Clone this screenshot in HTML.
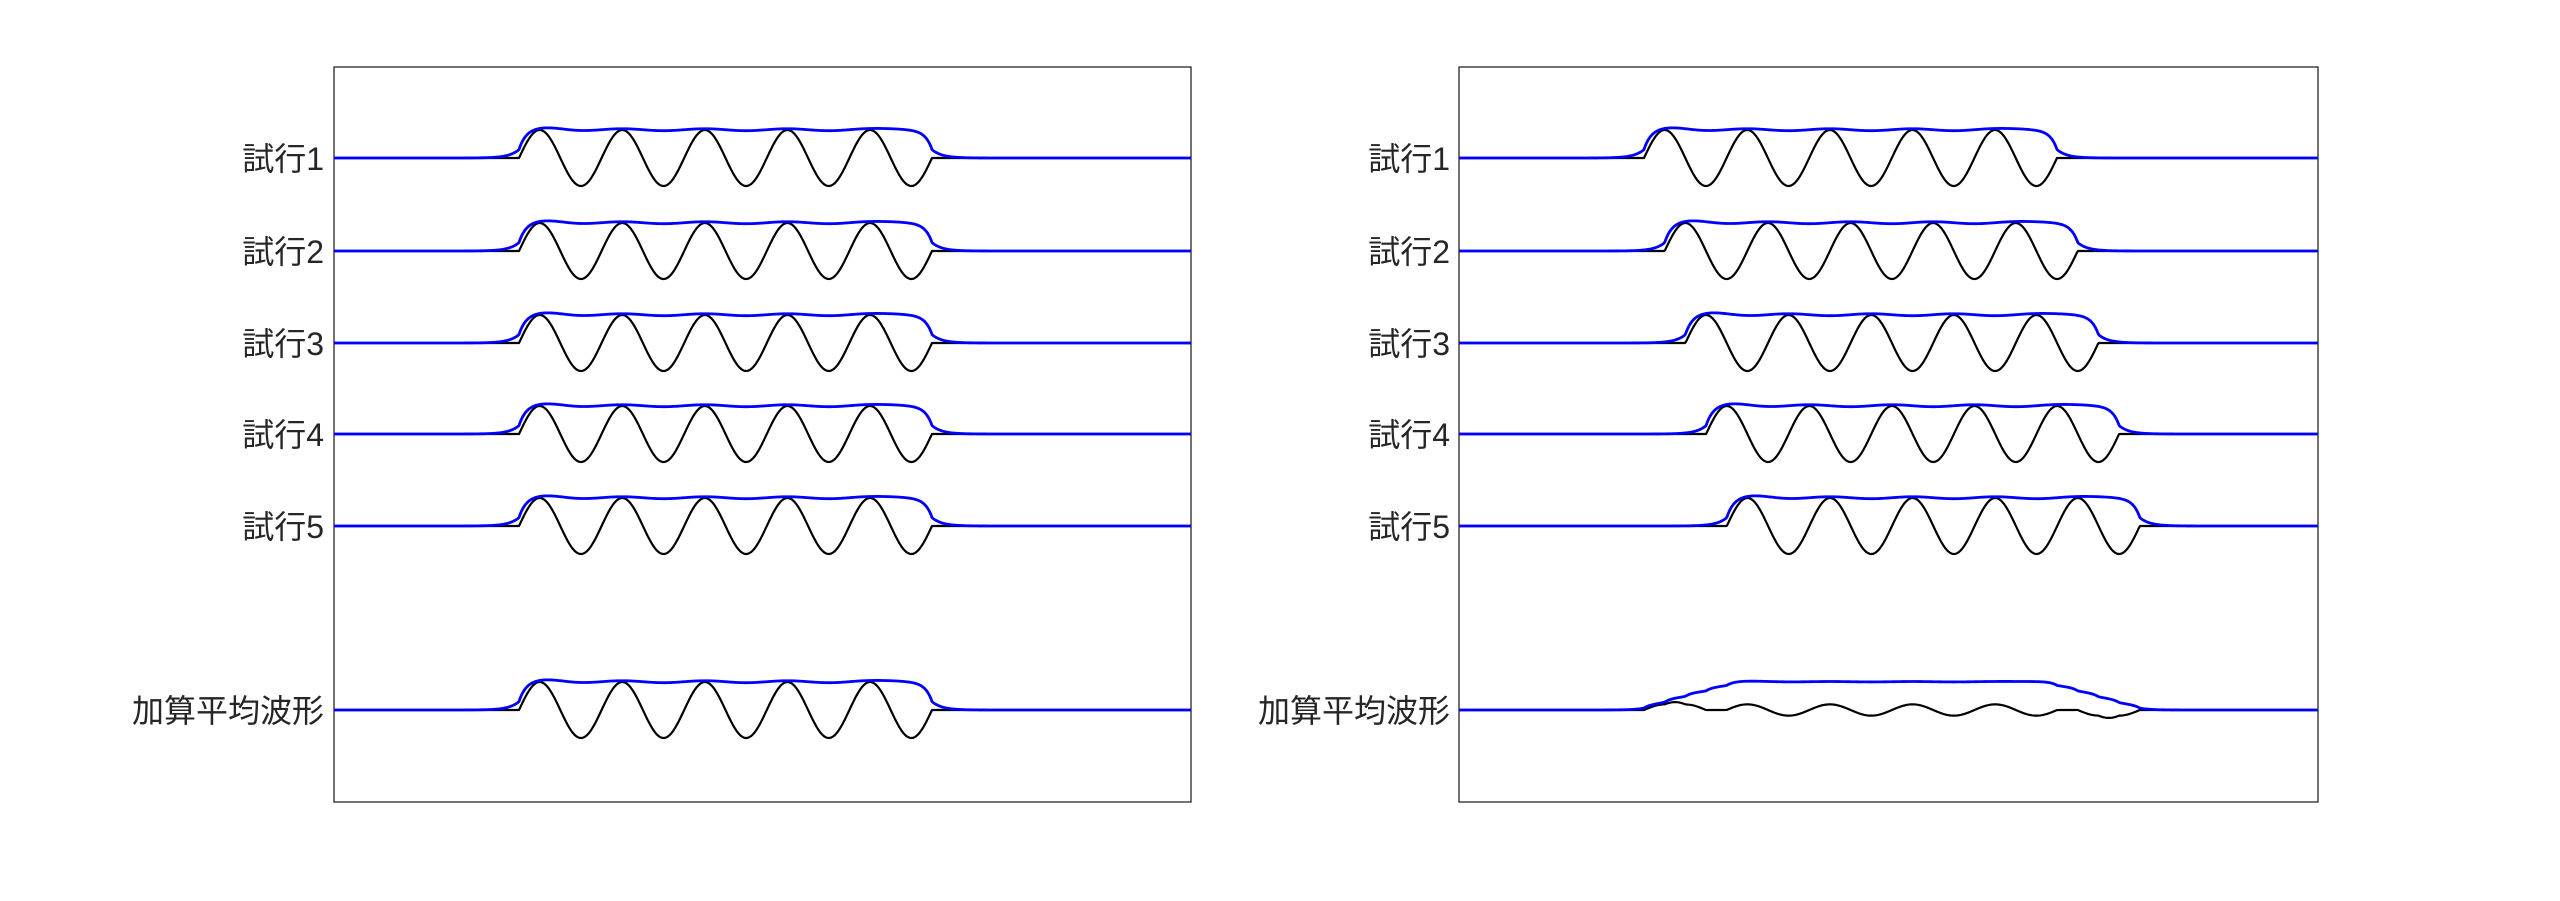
<!DOCTYPE html>
<html><head><meta charset="utf-8">
<style>
html,body{margin:0;padding:0;background:#fff;}
body{width:2560px;height:901px;overflow:hidden;}
svg{display:block;}
text{font-family:"Liberation Sans","Noto Sans CJK JP",sans-serif;font-size:32px;fill:#262626;}
</style></head>
<body>
<svg id="s" width="2560" height="901" viewBox="0 0 2560 901" xmlns="http://www.w3.org/2000/svg">
<rect x="334" y="67" width="857" height="735" fill="none" stroke="#262626" stroke-width="1.3"/>
<rect x="1459" y="67" width="859" height="735" fill="none" stroke="#262626" stroke-width="1.3"/>
<g text-anchor="end">
<text x="324" y="170">試行1</text>
<text x="324" y="263">試行2</text>
<text x="324" y="355">試行3</text>
<text x="324" y="446">試行4</text>
<text x="324" y="538">試行5</text>
<text x="324" y="722">加算平均波形</text>
<text x="1450" y="170">試行1</text>
<text x="1450" y="263">試行2</text>
<text x="1450" y="355">試行3</text>
<text x="1450" y="446">試行4</text>
<text x="1450" y="538">試行5</text>
<text x="1450" y="722">加算平均波形</text>
</g>
<g id="g"></g>
</svg>
<script>
(function(){
var NS="http://www.w3.org/2000/svg";
var g=document.getElementById('g');
var P=82.6, L=5*P, A=28, S0=185;
var rows=[158,251,343,434,526];
function sig(t){ if(t<0||t>L) return 0; return A*Math.sin(2*Math.PI*t/P); }
function env(t){
  var u=Math.min(t,L-t), e;
  if(u<0){ e=0.3*A*Math.exp(u/10); }
  else{
    e=A*(0.3+0.72*(1-Math.exp(-u/7)));
    e+=0.035*A*Math.cos(2*Math.PI*(t-P/4)/P);
    e+=0.05*A*Math.exp(-Math.pow(u-P/3,2)/(2*18*18));
    e-=0.01*A;
  }
  return e;
}
function path(x0,y0,f,color,w,W){
  var d="";
  for(var x=0;x<=W;x+=1){
    var y=y0-f(x);
    d+=(x?"L":"M")+(x0+x).toFixed(1)+" "+y.toFixed(2);
  }
  var p=document.createElementNS(NS,'path');
  p.setAttribute('d',d);p.setAttribute('fill','none');
  p.setAttribute('stroke',color);p.setAttribute('stroke-width',w);
  p.setAttribute('stroke-linejoin','round');
  g.appendChild(p);
}
function draw(x0,shift,W){
  var shifts=[];
  for(var i=0;i<5;i++){
    var s=S0+shift*i; shifts.push(s);
    (function(s){
      path(x0,rows[i],function(x){return sig(x-s);},'#000',2.2,W);
      path(x0,rows[i],function(x){return env(x-s);},'#0000ff',2.8,W);
    })(s);
  }
  path(x0,710,function(x){var v=0;for(var k=0;k<5;k++)v+=sig(x-shifts[k]);return v/5;},'#000',2.2,W);
  path(x0,710,function(x){var v=0;for(var k=0;k<5;k++)v+=env(x-shifts[k]);return v/5;},'#0000ff',2.8,W);
}
draw(334,0,857);
draw(1459,20.7,859);
})();
</script>
</body></html>
